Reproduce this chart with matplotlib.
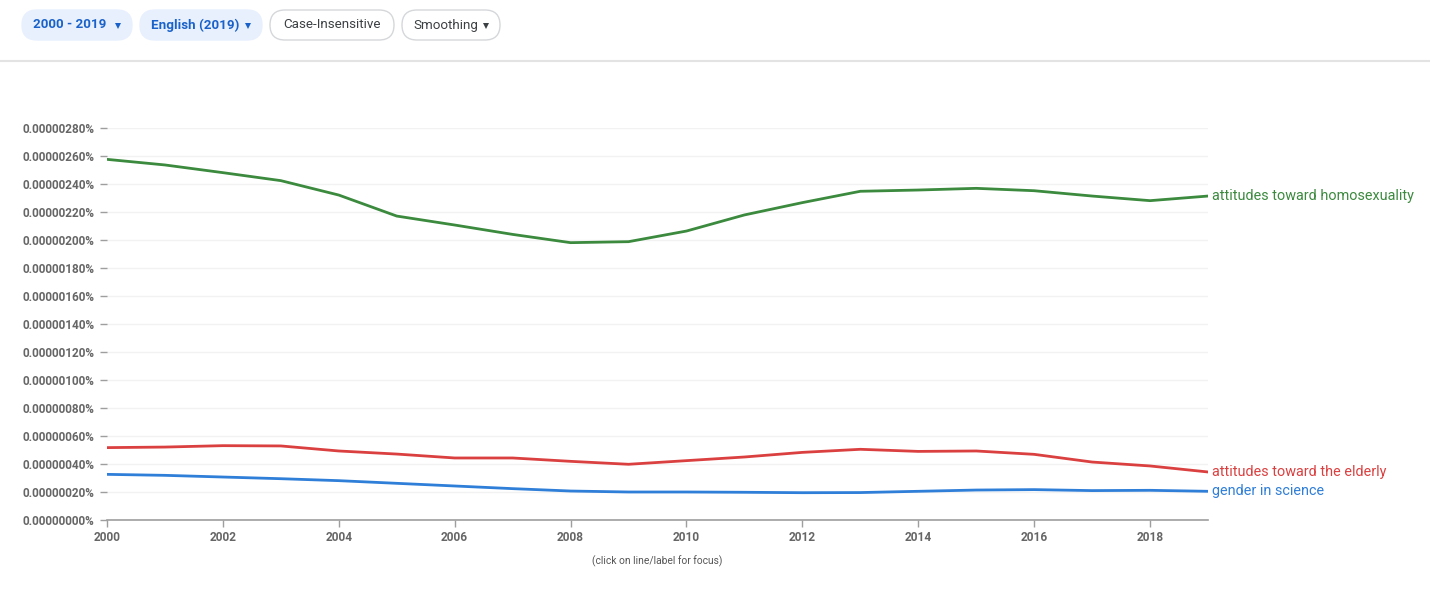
import matplotlib
matplotlib.use("Agg")
import matplotlib.pyplot as plt
from matplotlib.patches import FancyBboxPatch
from matplotlib.ticker import FuncFormatter, MultipleLocator

plt.rcParams['font.family'] = ['Roboto', 'DejaVu Sans']

years = list(range(2000, 2020))
homosexuality = [2.576e-6, 2.536e-6, 2.481e-6, 2.424e-6, 2.321e-6, 2.171e-6, 2.107e-6, 2.040e-6, 1.981e-6, 1.988e-6,
                 2.064e-6, 2.179e-6, 2.267e-6, 2.348e-6, 2.357e-6, 2.369e-6, 2.352e-6, 2.314e-6, 2.281e-6, 2.314e-6]
elderly = [0.517e-6, 0.521e-6, 0.531e-6, 0.529e-6, 0.493e-6, 0.471e-6, 0.443e-6, 0.443e-6, 0.419e-6, 0.398e-6,
           0.424e-6, 0.450e-6, 0.483e-6, 0.505e-6, 0.490e-6, 0.493e-6, 0.469e-6, 0.414e-6, 0.386e-6, 0.343e-6]
gender = [0.326e-6, 0.319e-6, 0.307e-6, 0.295e-6, 0.281e-6, 0.262e-6, 0.243e-6, 0.224e-6, 0.207e-6, 0.200e-6,
          0.200e-6, 0.198e-6, 0.195e-6, 0.196e-6, 0.205e-6, 0.214e-6, 0.217e-6, 0.210e-6, 0.212e-6, 0.205e-6]

series = [
    ("attitudes toward homosexuality", homosexuality, "#3b8a3e"),
    ("attitudes toward the elderly", elderly, "#db4040"),
    ("gender in science", gender, "#2f7ed8"),
]
xticks = [2000, 2002, 2004, 2006, 2008, 2010, 2012, 2014, 2016, 2018]
toolbar = [
    ("2000 - 2019", True, True, 22, 132),
    ("English (2019)", True, True, 140, 262),
    ("Case-Insensitive", False, False, 270, 394),
    ("Smoothing", False, True, 402, 500),
]

W, H = 1430, 592
fig = plt.figure(figsize=(W / 100, H / 100), dpi=100)
fig.patch.set_facecolor("white")

def fx(px):
    return px / W

def fy(py):
    return 1 - py / H

# overlay axes in pixel coordinates for the toolbar
ov = fig.add_axes([0, 0, 1, 1], zorder=-1)
ov.set_xlim(0, W)
ov.set_ylim(H, 0)
ov.axis("off")

ax = fig.add_axes([fx(107), fy(520), fx(1208) - fx(107), fy(128) - fy(520)])
ax.set_xlim(2000, 2019)
ax.set_ylim(0, 2.8e-6)
ax.yaxis.set_major_locator(MultipleLocator(0.2e-6))
ax.yaxis.set_major_formatter(FuncFormatter(lambda v, p: f"{v:.8f}%"))
ax.set_xticks(xticks)
ax.set_xticklabels([str(t) for t in xticks])
for s in ["top", "right", "left"]:
    ax.spines[s].set_visible(False)
ax.spines["bottom"].set_color("#9e9e9e")
ax.spines["bottom"].set_linewidth(1.2)
ax.grid(axis="y", color="#f2f2f2", linewidth=1)
ax.set_axisbelow(True)
ax.tick_params(axis="y", length=5, width=1, color="#9e9e9e", pad=4,
               labelsize=8.5, labelcolor="#666666")
ax.tick_params(axis="x", length=5, width=1, color="#9e9e9e", pad=3,
               labelsize=8.6, labelcolor="#666666")
for lab in ax.get_yticklabels() + ax.get_xticklabels():
    lab.set_fontweight("bold")

for name, vals, col in series:
    ax.plot(years, vals, color=col, linewidth=2, solid_capstyle="round")
    ax.annotate(name, xy=(years[-1], vals[-1]), xytext=(3, 0), textcoords="offset points",
                color=col, fontsize=10.4, va="center", ha="left", annotation_clip=False)

fig.text(fx(657), fy(561), "(click on line/label for focus)", ha="center", va="center",
         fontsize=7.4, color="#555555")

# toolbar
for label, active, dropdown, x0, x1 in toolbar:
    y0, y1 = 10, 40
    box = FancyBboxPatch((x0, y0), x1 - x0, y1 - y0,
                         boxstyle="round,pad=0,rounding_size=15",
                         facecolor="#e8f0fe" if active else "white",
                         edgecolor="#e8f0fe" if active else "#d5d7da",
                         linewidth=1)
    ov.add_patch(box)
    tcol = "#1a62c9" if active else "#3c4043"
    weight = "bold" if active else "normal"
    if dropdown:
        ov.text(x0 + 11, 25, label, ha="left", va="center", fontsize=9.6,
                color=tcol, fontweight=weight)
        ov.plot([x1 - 14], [25.5], marker="v", markersize=4.5, color=tcol,
                markeredgewidth=0, linestyle="none")
    else:
        ov.text((x0 + x1) / 2, 25, label, ha="center", va="center", fontsize=9.6,
                color=tcol, fontweight=weight)

ov.plot([0, W], [61, 61], color="#e3e3e3", linewidth=1.5)

fig.savefig("out.png", dpi=100, facecolor="white")
